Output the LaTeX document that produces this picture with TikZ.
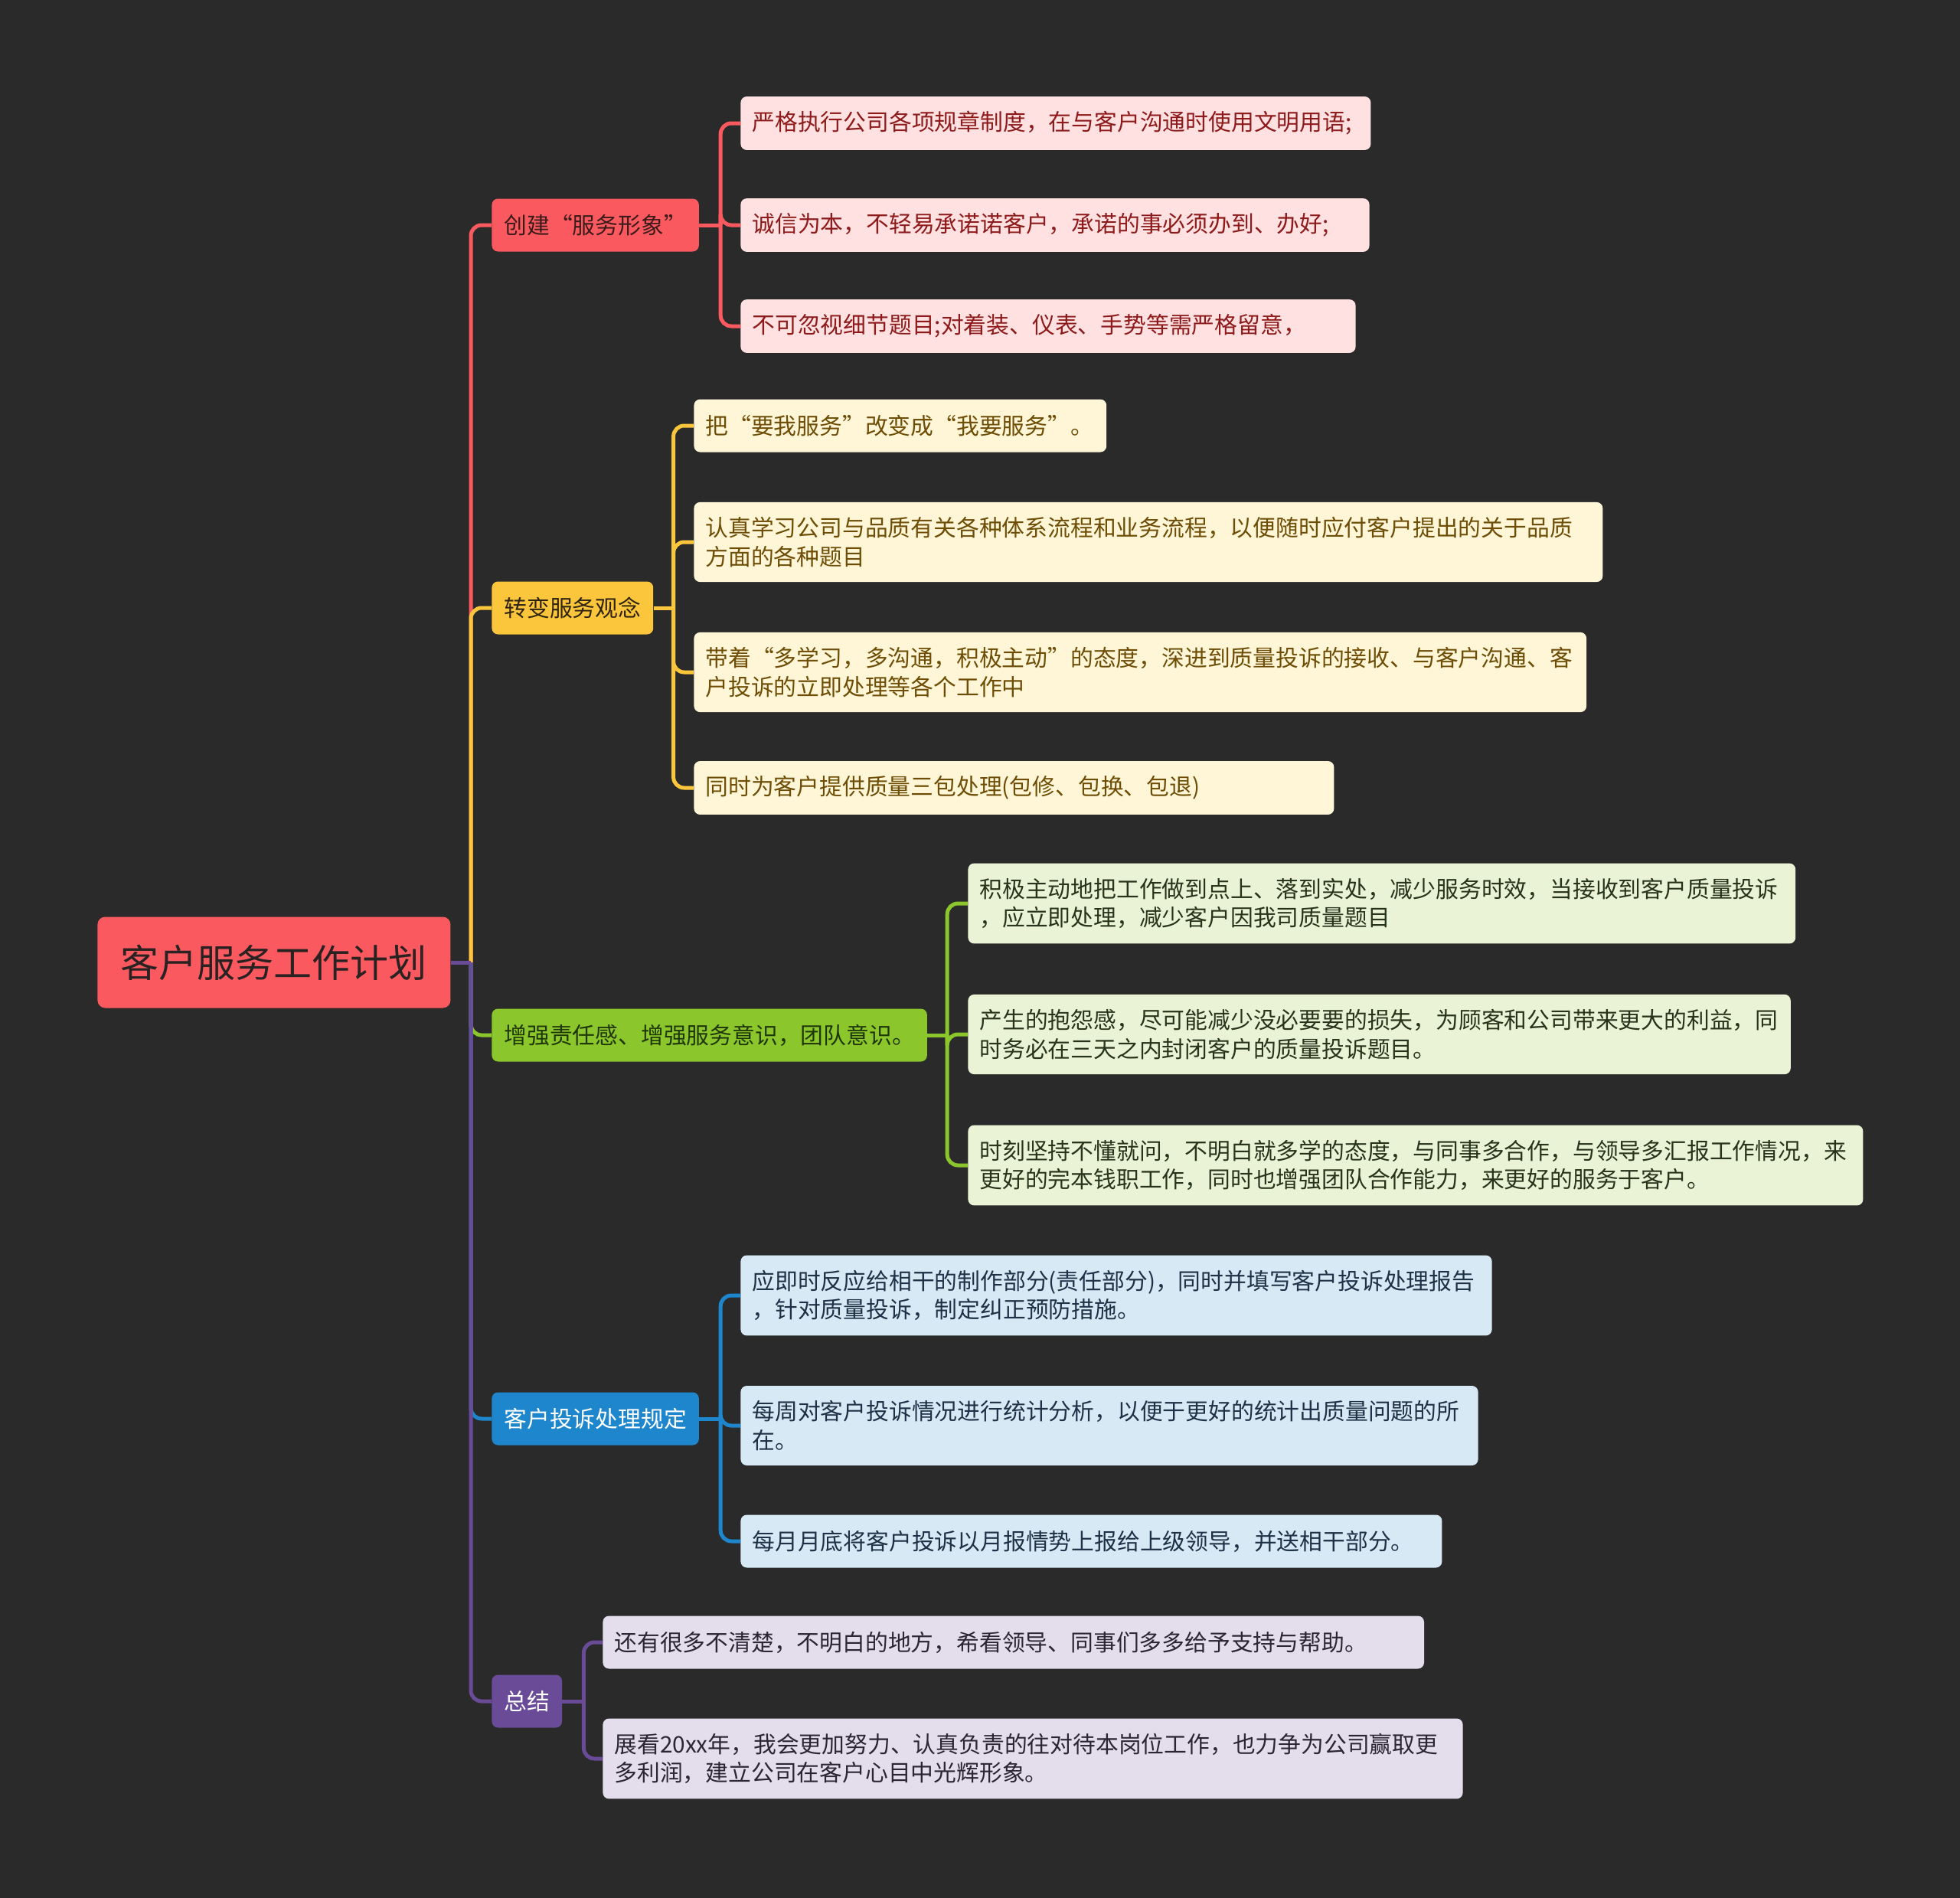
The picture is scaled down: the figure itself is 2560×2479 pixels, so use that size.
\documentclass[tikz,border=0pt]{standalone}
\usepackage{fontspec}
\setmainfont{Noto Sans CJK SC}
\definecolor{bg}{HTML}{2A2A2A}
\definecolor{rootred}{HTML}{FA5A5F}
\definecolor{rootink}{HTML}{2A2222}
\definecolor{redink}{HTML}{8E1B1B}
\definecolor{redleaf}{HTML}{FFE1E2}
\definecolor{redtop}{HTML}{3B1A1A}
\definecolor{yel}{HTML}{FBC63C}
\definecolor{yeltop}{HTML}{2E2410}
\definecolor{yelleaf}{HTML}{FEF6D6}
\definecolor{yelink}{HTML}{6E4D06}
\definecolor{grn}{HTML}{8BC72C}
\definecolor{grntop}{HTML}{1F3608}
\definecolor{grnleaf}{HTML}{EAF3D6}
\definecolor{grnink}{HTML}{27331A}
\definecolor{blu}{HTML}{1D86CC}
\definecolor{bluleaf}{HTML}{D6E9F5}
\definecolor{bluink}{HTML}{1E3247}
\definecolor{pur}{HTML}{6A4B98}
\definecolor{purleaf}{HTML}{E4DDEB}
\definecolor{purink}{HTML}{2B2535}
\tikzset{
  root/.style={fill=rootred, text=rootink, rounded corners=5pt, anchor=west,
    minimum width=230.5pt, minimum height=59.5pt, font=\fontsize{25}{30}\selectfont},
  topic/.style 2 args={fill=#1, text=#2, rounded corners=4pt, anchor=west,
    inner xsep=8pt, inner ysep=0pt, minimum height=34.5pt, font=\fontsize{14.9}{18.8}\selectfont},
  leaf/.style 2 args={fill=#1, text=#2, rounded corners=4pt, anchor=west, align=left,
    inner xsep=7.5pt, inner ysep=9.7pt, minimum height=34.5pt, font=\fontsize{14.9}{18.8}\selectfont},
  link/.style={draw=#1, line width=2.5pt, rounded corners=7pt},
}
\begin{document}
\begin{tikzpicture}[x=0.5pt,y=-0.5pt]
\fill[bg] (0,0) rectangle (2560,2479);
% centre
\node[root] (plan) at (127,1257) {客户服务工作计划};
\coordinate (hub) at (615,1257);
% main topics
\node[topic={rootred}{redtop}] (image) at (642,294) {创建“服务形象”};
\node[topic={yel}{yeltop}] (idea) at (642,794) {转变服务观念};
\node[topic={grn}{grntop}] (duty) at (642,1352) {增强责任感、增强服务意识，团队意识。};
\node[topic={blu}{white}] (rule) at (642,1853) {客户投诉处理规定};
\node[topic={pur}{white}] (sum) at (642,2222) {总结};
% image
\node[leaf={redleaf}{redink}, text width=396.5pt] (r1) at (967,161) {严格执行公司各项规章制度，在与客户沟通时使用文明用语;};
\node[leaf={redleaf}{redink}, text width=395.6pt] (r2) at (967,294) {诚信为本，不轻易承诺诺客户，承诺的事必须办到、办好;};
\node[leaf={redleaf}{redink}, text width=386.6pt] (r3) at (967,426) {不可忽视细节题目;对着装、仪表、手势等需严格留意，};
% idea
\node[leaf={yelleaf}{yelink}, text width=254.4pt] (y1) at (906,556) {把“要我服务”改变成“我要服务”。};
\node[leaf={yelleaf}{yelink}, text width=578.5pt] (y2) at (906,708) {认真学习公司与品质有关各种体系流程和业务流程，以便随时应付客户提出的关于品质\\方面的各种题目};
\node[leaf={yelleaf}{yelink}, text width=567.9pt] (y3) at (906,878) {带着“多学习，多沟通，积极主动”的态度，深进到质量投诉的接收、与客户沟通、客\\户投诉的立即处理等各个工作中};
\node[leaf={yelleaf}{yelink}, text width=403pt] (y4) at (906,1029) {同时为客户提供质量三包处理(包修、包换、包退)};
% duty
\node[leaf={grnleaf}{grnink}, text width=525.4pt] (g1) at (1264,1180) {积极主动地把工作做到点上、落到实处，减少服务时效，当接收到客户质量投诉\\，应立即处理，减少客户因我司质量题目};
\node[leaf={grnleaf}{grnink}, text width=522.2pt] (g2) at (1264,1351) {产生的抱怨感，尽可能减少没必要要的损失，为顾客和公司带来更大的利益，同\\时务必在三天之内封闭客户的质量投诉题目。};
\node[leaf={grnleaf}{grnink}, text width=569.5pt] (g3) at (1264,1522) {时刻坚持不懂就问，不明白就多学的态度，与同事多合作，与领导多汇报工作情况，来\\更好的完本钱职工作，同时也增强团队合作能力，来更好的服务于客户。};
% rule
\node[leaf={bluleaf}{bluink}, text width=475.6pt] (b1) at (967,1692) {应即时反应给相干的制作部分(责任部分)，同时并填写客户投诉处理报告\\，针对质量投诉，制定纠正预防措施。};
\node[leaf={bluleaf}{bluink}, text width=466.6pt] (b2) at (967,1862) {每周对客户投诉情况进行统计分析，以便于更好的统计出质量问题的所\\在。};
\node[leaf={bluleaf}{bluink}, text width=443pt] (b3) at (967,2013) {每月月底将客户投诉以月报情势上报给上级领导，并送相干部分。};
% sum
\node[leaf={purleaf}{purink}, text width=521.3pt] (p1) at (787,2145) {还有很多不清楚，不明白的地方，希看领导、同事们多多给予支持与帮助。};
\node[leaf={purleaf}{purink}, text width=546.6pt] (p2) at (787,2297) {展看20xx年，我会更加努力、认真负责的往对待本岗位工作，也力争为公司赢取更\\多利润，建立公司在客户心目中光辉形象。};
% links from the centre
\draw[link=rootred] (hub) |- (image.west);
\draw[link=yel] (hub) |- (idea.west);
\draw[link=grn] (hub) |- (duty.west);
\draw[link=blu] (hub) |- (rule.west);
\draw[link=pur] (hub) |- (sum.west);
\draw[link=pur] (plan.east) -- (hub);
% links to the leaves
\coordinate (rh) at ([xshift=14pt]image.east);
\coordinate (yh) at ([xshift=13pt]idea.east);
\coordinate (gh) at ([xshift=13pt]duty.east);
\coordinate (bh) at ([xshift=14pt]rule.east);
\coordinate (ph) at ([xshift=14pt]sum.east);
\draw[link=rootred] (image.east) -- (rh);
\foreach \n in {r1,r2,r3} \draw[link=rootred] (rh) |- (\n.west);
\draw[link=yel] (idea.east) -- (yh);
\foreach \n in {y1,y2,y3,y4} \draw[link=yel] (yh) |- (\n.west);
\draw[link=grn] (duty.east) -- (gh);
\foreach \n in {g1,g2,g3} \draw[link=grn] (gh) |- (\n.west);
\draw[link=blu] (rule.east) -- (bh);
\foreach \n in {b1,b2,b3} \draw[link=blu] (bh) |- (\n.west);
\draw[link=pur] (sum.east) -- (ph);
\foreach \n in {p1,p2} \draw[link=pur] (ph) |- (\n.west);
\end{tikzpicture}
\end{document}
